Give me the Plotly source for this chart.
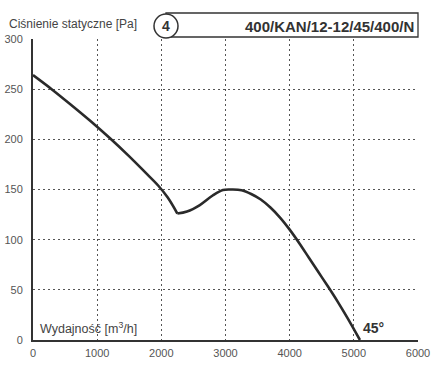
import plotly.graph_objects as go

# falling branch (left of the stall point)
flow_a = [0, 300, 600, 900, 1200, 1500, 1750, 1950, 2100, 2250]
pressure_a = [264, 249.5, 234, 218, 201, 183, 167, 154, 142, 126]
# right branch (after the stall point)
flow_b = [2250, 2400, 2600, 2800, 2960, 3100, 3250, 3400, 3550, 3700, 3850, 4000, 4150, 4300, 4450, 4600, 4750, 4900, 5095]
pressure_b = [126, 128, 134.5, 144, 149.5, 150, 149.3, 145.5, 140, 132, 122, 110, 96.5, 82, 67.5, 53, 38, 22, 0]

x_ticks = [0, 1000, 2000, 3000, 4000, 5000, 6000]
y_ticks = [0, 50, 100, 150, 200, 250, 300]

title_text = "400/KAN/12-12/45/400/N"
badge = "4"
y_label = "Ciśnienie statyczne [Pa]"
x_label = "Wydajność [m<sup>3</sup>/h]"
angle_label = "45°"

fig = go.Figure()
for fx, fy in ((flow_a, pressure_a), (flow_b, pressure_b)):
    fig.add_trace(go.Scatter(x=fx, y=fy, mode="lines",
                             line=dict(color="#2a2a2a", width=2.6, shape="spline", smoothing=1.0),
                             showlegend=False, hoverinfo="skip"))

font_family = "Liberation Sans, Arial, sans-serif"
PW, PH = 385.0, 301.0
def px(x):
    return (x - 33) / PW
def py(y):
    return (340 - y) / PH

axis_common = dict(showgrid=True, gridcolor="#555", griddash="2px,3px", gridwidth=1,
                   zeroline=False, showline=True, linecolor="#333", linewidth=2,
                   ticks="", automargin=False, tickfont=dict(size=11, color="#555"))
fig.update_layout(
    width=438, height=372,
    margin=dict(l=33, r=20, t=39, b=32),
    paper_bgcolor="white", plot_bgcolor="white",
    font=dict(family=font_family, color="#444", size=11),
    xaxis=dict(range=[0, 6000], tickvals=x_ticks, ticklabelstandoff=2, **axis_common),
    yaxis=dict(range=[0, 300], tickvals=y_ticks, ticklabelstandoff=6, **axis_common),
)

# title box
fig.add_shape(type="rect", xref="paper", yref="paper", x0=px(166), x1=px(418), y0=py(37), y1=py(13),
              line=dict(color="#333", width=1.3), fillcolor="white", layer="above")
fig.add_shape(type="circle", xref="paper", yref="paper", x0=px(154), x1=px(178),
              y0=py(38), y1=py(14), line=dict(color="#333", width=1.5), fillcolor="white", layer="above")
fig.add_annotation(xref="paper", yref="paper", x=px(166), y=py(26), text="<b>" + badge + "</b>", showarrow=False,
                   font=dict(size=14, color="#333", family=font_family), xanchor="center", yanchor="middle")
fig.add_annotation(xref="paper", yref="paper", x=px(416), y=py(26), text="<b>" + title_text + "</b>", showarrow=False,
                   font=dict(size=15, color="#333", family=font_family), xanchor="right", yanchor="middle")
fig.add_annotation(xref="paper", yref="paper", x=px(7), y=py(24), text=y_label, showarrow=False,
                   font=dict(size=12, color="#444", family=font_family), xanchor="left", yanchor="middle")
fig.add_annotation(xref="paper", yref="paper", x=px(38), y=py(328), text=x_label, showarrow=False,
                   font=dict(size=12.5, color="#444", family=font_family), xanchor="left", yanchor="middle")
fig.add_annotation(xref="paper", yref="paper", x=px(361), y=py(328), text="<b>" + angle_label + "</b>", showarrow=False,
                   font=dict(size=14, color="#333", family=font_family), xanchor="left", yanchor="middle")

fig.write_html("out.html", config={"displayModeBar": False},
               post_script="document.body.style.margin='0';document.body.style.padding='0';")
